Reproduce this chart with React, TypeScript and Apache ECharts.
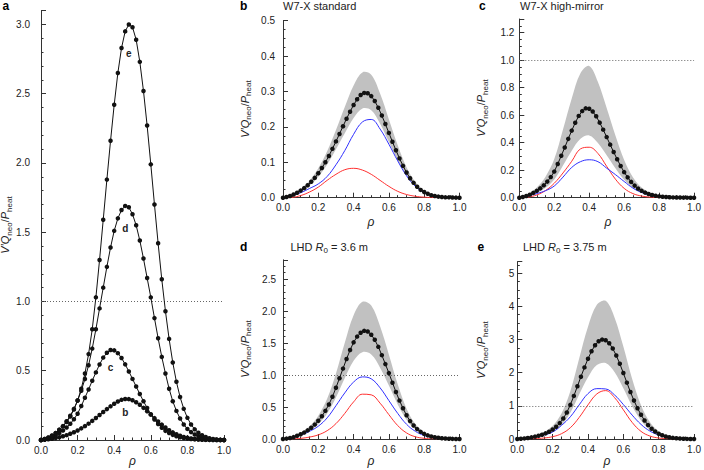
import React, { useEffect, useRef } from "react";
import * as echarts from "echarts";

// ---------- data ----------
const RHO_FINE = [0, 0.02, 0.04, 0.06, 0.08, 0.1, 0.12, 0.14, 0.16, 0.18, 0.2, 0.22, 0.24, 0.26, 0.28, 0.3, 0.32, 0.34, 0.36, 0.38, 0.4, 0.42, 0.44, 0.46, 0.48, 0.5, 0.52, 0.54, 0.56, 0.58, 0.6, 0.62, 0.64, 0.66, 0.68, 0.7, 0.72, 0.74, 0.76, 0.78, 0.8, 0.82, 0.84, 0.86, 0.88, 0.9, 0.92, 0.94, 0.96, 0.98, 1];
const RHO_COARSE = [0, 0.05, 0.1, 0.15, 0.2, 0.25, 0.3, 0.35, 0.4, 0.45, 0.5, 0.55, 0.6, 0.65, 0.7, 0.75, 0.8, 0.85, 0.9, 0.95, 1];

// total V'Q_neo/P_heat (black dotted curves), on RHO_FINE
const TOTAL_B = [0, 0.002, 0.005, 0.009, 0.014, 0.02, 0.027, 0.035, 0.045, 0.056, 0.069, 0.084, 0.1, 0.118, 0.138, 0.159, 0.18, 0.202, 0.223, 0.243, 0.262, 0.278, 0.29, 0.296, 0.295, 0.287, 0.273, 0.254, 0.232, 0.208, 0.183, 0.158, 0.134, 0.111, 0.09, 0.071, 0.055, 0.042, 0.031, 0.022, 0.016, 0.011, 0.007, 0.005, 0.003, 0.002, 0.001, 0.001, 0.0005, 0.0002, 0];
const TOTAL_C = [0, 0.005, 0.012, 0.022, 0.035, 0.05, 0.068, 0.09, 0.117, 0.15, 0.19, 0.245, 0.305, 0.365, 0.428, 0.488, 0.545, 0.595, 0.63, 0.65, 0.647, 0.627, 0.592, 0.546, 0.495, 0.441, 0.386, 0.332, 0.28, 0.231, 0.186, 0.148, 0.115, 0.088, 0.066, 0.05, 0.037, 0.027, 0.02, 0.014, 0.01, 0.007, 0.005, 0.003, 0.002, 0.001, 0.001, 0.0005, 0.0002, 0.0001, 0];
const TOTAL_D = [0, 0.006, 0.016, 0.03, 0.05, 0.075, 0.1, 0.135, 0.175, 0.225, 0.285, 0.355, 0.44, 0.54, 0.66, 0.8, 0.95, 1.1, 1.25, 1.39, 1.51, 1.6, 1.66, 1.69, 1.68, 1.63, 1.55, 1.44, 1.31, 1.17, 1.03, 0.88, 0.735, 0.6, 0.48, 0.37, 0.28, 0.21, 0.155, 0.112, 0.08, 0.057, 0.04, 0.028, 0.019, 0.012, 0.007, 0.004, 0.002, 0.001, 0];
const TOTAL_E = [0, 0.008, 0.018, 0.032, 0.05, 0.072, 0.098, 0.13, 0.17, 0.22, 0.285, 0.37, 0.48, 0.62, 0.8, 1.03, 1.3, 1.59, 1.88, 2.16, 2.42, 2.65, 2.83, 2.95, 3.0, 2.98, 2.89, 2.73, 2.52, 2.27, 1.99, 1.7, 1.42, 1.16, 0.93, 0.73, 0.56, 0.42, 0.31, 0.225, 0.16, 0.112, 0.077, 0.052, 0.034, 0.022, 0.013, 0.007, 0.003, 0.001, 0];

// uncertainty band, red and blue contributions, on RHO_COARSE
const BAND_UP_B = [0, 0.008, 0.024, 0.048, 0.083, 0.131, 0.191, 0.256, 0.317, 0.354, 0.347, 0.294, 0.221, 0.148, 0.086, 0.044, 0.019, 0.007, 0.002, 0.0005, 0];
const BAND_LO_B = [0, 0.006, 0.017, 0.034, 0.059, 0.094, 0.137, 0.182, 0.225, 0.252, 0.247, 0.209, 0.157, 0.105, 0.061, 0.031, 0.014, 0.005, 0.0017, 0.0004, 0];
const RED_B = [0, 0.001, 0.006, 0.016, 0.03, 0.049, 0.066, 0.079, 0.083, 0.078, 0.066, 0.049, 0.032, 0.018, 0.009, 0.004, 0.0015, 0.0005, 0, 0, 0];
const BLUE_B = [0, 0.006, 0.014, 0.026, 0.039, 0.06, 0.093, 0.133, 0.179, 0.214, 0.221, 0.194, 0.151, 0.104, 0.062, 0.032, 0.0145, 0.0055, 0.002, 0.0005, 0];

const BAND_UP_C = [0, 0.025, 0.074, 0.153, 0.281, 0.496, 0.722, 0.906, 0.958, 0.842, 0.653, 0.453, 0.275, 0.149, 0.074, 0.035, 0.015, 0.006, 0.0015, 0.0003, 0];
const BAND_LO_C = [0, 0.012, 0.035, 0.072, 0.133, 0.235, 0.342, 0.429, 0.453, 0.398, 0.309, 0.214, 0.13, 0.07, 0.035, 0.016, 0.007, 0.003, 0.0007, 0.0001, 0];
const RED_C = [0, 0.004, 0.02, 0.052, 0.105, 0.18, 0.265, 0.355, 0.367, 0.322, 0.228, 0.135, 0.068, 0.03, 0.012, 0.004, 0.0012, 0.0003, 0, 0, 0];
const BLUE_C = [0, 0.013, 0.03, 0.051, 0.085, 0.15, 0.22, 0.262, 0.276, 0.262, 0.215, 0.168, 0.118, 0.07, 0.038, 0.019, 0.009, 0.004, 0.0015, 0.0003, 0];

const BAND_UP_D = [0, 0.029, 0.096, 0.198, 0.365, 0.627, 1.024, 1.504, 1.933, 2.144, 2.086, 1.76, 1.318, 0.854, 0.474, 0.233, 0.102, 0.044, 0.015, 0.004, 0];
const BAND_LO_D = [0, 0.019, 0.061, 0.126, 0.231, 0.397, 0.648, 0.952, 1.223, 1.357, 1.32, 1.114, 0.834, 0.54, 0.3, 0.147, 0.065, 0.028, 0.01, 0.0024, 0];
const RED_D = [0, 0.002, 0.01, 0.03, 0.065, 0.13, 0.24, 0.4, 0.58, 0.7, 0.69, 0.56, 0.38, 0.21, 0.095, 0.035, 0.011, 0.003, 0.001, 0, 0];
const BLUE_D = [0, 0.018, 0.06, 0.12, 0.2, 0.33, 0.52, 0.72, 0.89, 0.97, 0.94, 0.8, 0.6, 0.4, 0.23, 0.12, 0.055, 0.022, 0.008, 0.002, 0];

const BAND_UP_E = [0, 0.035, 0.1, 0.21, 0.4, 0.77, 1.44, 2.43, 3.39, 4.05, 4.17, 3.67, 2.79, 1.81, 1.02, 0.51, 0.224, 0.09, 0.031, 0.007, 0];
const BAND_LO_E = [0, 0.019, 0.055, 0.116, 0.22, 0.42, 0.79, 1.34, 1.86, 2.23, 2.29, 2.02, 1.53, 0.99, 0.56, 0.28, 0.123, 0.05, 0.017, 0.004, 0];
const RED_E = [0, 0.003, 0.012, 0.03, 0.07, 0.16, 0.34, 0.65, 1.03, 1.36, 1.46, 1.25, 0.88, 0.5, 0.23, 0.09, 0.03, 0.01, 0.003, 0, 0];
const BLUE_E = [0, 0.025, 0.07, 0.12, 0.21, 0.41, 0.67, 1.03, 1.37, 1.52, 1.51, 1.33, 1.04, 0.72, 0.44, 0.24, 0.12, 0.05, 0.018, 0.005, 0];

const CURVE_LETTERS = ["b", "c", "d", "e"];
const PANEL_TITLES = ["W7-X standard", "W7-X high-mirror", "3.6", "3.75"];
const REFERENCE_LEVEL = 1;

// ---------- styles ----------
const FONT = '"Liberation Sans", Arial, Helvetica, sans-serif';
const AXIS_COLOR = "#333";
const TEXT_COLOR = "#222";
const BAND_COLOR = "#c1c1c1";
const RED = "#ff3030";
const BLUE = "#3030ff";

const PANELS = [
  { grid: { left: 41, top: 10.6, width: 183, height: 429.4 }, yMax: 3.1, yInt: 0.5, yMinor: 5, digits: 1, margin: 11, hideMax: true },
  { grid: { left: 283, top: 20.7, width: 176.5, height: 177 }, yMax: 0.5, yInt: 0.1, yMinor: 4, digits: 1, margin: 8, hideMax: false },
  { grid: { left: 519.3, top: 19, width: 177.4, height: 178.7 }, yMax: 1.3, yInt: 0.2, yMinor: 4, digits: 1, margin: 5, hideMax: true },
  { grid: { left: 283, top: 259.8, width: 176.5, height: 179.2 }, yMax: 2.8, yInt: 0.5, yMinor: 5, digits: 1, margin: 7, hideMax: true },
  { grid: { left: 517.3, top: 261.7, width: 179.4, height: 177.3 }, yMax: 5.35, yInt: 1, yMinor: 4, digits: 0, margin: 3, hideMax: true },
];

const pairs = (xs: number[], ys: number[]) => xs.map((x, i) => [x, ys[i]]);

function xAxis(i: number) {
  return {
    type: "value", gridIndex: i, min: 0, max: 1, interval: 0.2,
    axisLine: { onZero: false, lineStyle: { color: AXIS_COLOR, width: 1 } },
    axisTick: { inside: true, length: 5, lineStyle: { color: AXIS_COLOR } },
    minorTick: { show: true, splitNumber: 4, length: 2.5, lineStyle: { color: AXIS_COLOR } },
    splitLine: { show: false },
    axisLabel: { formatter: (v: number) => v.toFixed(1), fontSize: 10, color: TEXT_COLOR, margin: 5, fontFamily: FONT },
  };
}

function yAxis(i: number) {
  const p = PANELS[i];
  return {
    type: "value", gridIndex: i, min: 0, max: p.yMax, interval: p.yInt,
    axisLine: { show: true, lineStyle: { color: AXIS_COLOR, width: 1 } },
    axisTick: { show: true, inside: true, length: 5, lineStyle: { color: AXIS_COLOR } },
    minorTick: { show: true, splitNumber: p.yMinor, length: 2.5, lineStyle: { color: AXIS_COLOR } },
    splitLine: { show: false },
    axisLabel: {
      formatter: (v: number) => v.toFixed(p.digits), fontSize: 10, color: TEXT_COLOR,
      margin: p.margin, fontFamily: FONT, showMaxLabel: !p.hideMax,
    },
  };
}

const refLine = {
  silent: true, symbol: "none", label: { show: false },
  lineStyle: { type: [1, 2], color: "#666", width: 1 },
  data: [{ yAxis: REFERENCE_LEVEL }],
};

function blackSeries(i: number, ys: number[], opts: any = {}) {
  const data: any[] = pairs(RHO_FINE, ys);
  if (opts.letter) {
    const k = opts.labelIdx;
    data[k] = {
      value: data[k],
      label: {
        show: true, position: "bottom", distance: opts.dist, formatter: opts.letter,
        fontSize: 10, fontWeight: "bold", color: TEXT_COLOR, fontFamily: FONT,
      },
    };
  }
  const s: any = {
    type: "line", xAxisIndex: i, yAxisIndex: i, data, symbol: "circle", symbolSize: 4.5,
    itemStyle: { color: "#111" }, lineStyle: { color: "#111", width: 1 }, z: 5, silent: true,
  };
  if (opts.ref) s.markLine = refLine;
  return s;
}

function bandSeries(i: number, lo: number[], up: number[]) {
  return {
    type: "custom", xAxisIndex: i, yAxisIndex: i, silent: true, z: 1,
    data: RHO_COARSE.map((r, k) => [r, lo[k], up[k]]),
    encode: { x: 0, y: [1, 2] },
    renderItem: (params: any, api: any) => {
      if (params.dataIndex !== 0) return null;
      const pts: number[][] = [];
      for (let k = 0; k < RHO_COARSE.length; k++) pts.push(api.coord([RHO_COARSE[k], up[k]]));
      for (let k = RHO_COARSE.length - 1; k >= 0; k--) pts.push(api.coord([RHO_COARSE[k], lo[k]]));
      return { type: "polygon", shape: { points: pts, smooth: 0.35 }, style: { fill: BAND_COLOR } };
    },
  };
}

function thinLine(i: number, ys: number[], color: string) {
  return {
    type: "line", xAxisIndex: i, yAxisIndex: i, data: pairs(RHO_COARSE, ys), symbol: "none",
    smooth: 0.4, lineStyle: { color, width: 1 }, z: 3, silent: true,
  };
}

// ---------- texts ----------
const mainRich = {
  n: { fontSize: 11, fontFamily: FONT, fill: TEXT_COLOR, lineHeight: 16 },
  i: { fontSize: 11, fontFamily: FONT, fill: TEXT_COLOR, fontStyle: "italic", lineHeight: 16 },
  s: { fontSize: 8, fontFamily: FONT, fill: TEXT_COLOR, lineHeight: 8, verticalAlign: "bottom" },
};

function letter(t: string, x: number, y: number) {
  return {
    type: "text", x, y, silent: true,
    style: { text: t, fontSize: 12, fontWeight: "bold", fontFamily: FONT, fill: "#000", align: "left", verticalAlign: "middle" },
  };
}
function title(t: string, x: number, y: number) {
  return {
    type: "text", x, y, silent: true,
    style: { text: t, rich: mainRich, fontSize: 11, fontFamily: FONT, fill: TEXT_COLOR, align: "left", verticalAlign: "middle" },
  };
}
function ylabel(x: number, y: number) {
  return {
    type: "text", x, y, rotation: Math.PI / 2, silent: true,
    style: {
      text: "{i|V′Q}{s|neo}{n|/}{i|P}{s|heat}", rich: mainRich, fontSize: 11, fontFamily: FONT,
      fill: TEXT_COLOR, align: "center", verticalAlign: "middle",
    },
  };
}
function rho(x: number, y: number) {
  return {
    type: "text", x, y, silent: true,
    style: { text: "ρ", fontSize: 12, fontStyle: "italic", fontFamily: FONT, fill: TEXT_COLOR, align: "center", verticalAlign: "middle" },
  };
}

export default function App() {
  const ref = useRef<HTMLDivElement>(null);
  useEffect(() => {
    if (!ref.current) return;
    const chart = echarts.init(ref.current, null, { renderer: "svg" });
    const series: any[] = [
      // panel a
      blackSeries(0, TOTAL_B, { letter: CURVE_LETTERS[0], labelIdx: 23, dist: 6 }),
      blackSeries(0, TOTAL_C, { letter: CURVE_LETTERS[1], labelIdx: 19, dist: 10 }),
      blackSeries(0, TOTAL_D, { letter: CURVE_LETTERS[2], labelIdx: 23, dist: 15 }),
      blackSeries(0, TOTAL_E, { letter: CURVE_LETTERS[3], labelIdx: 24, dist: 22, ref: true }),
      // panel b
      bandSeries(1, BAND_LO_B, BAND_UP_B), thinLine(1, RED_B, RED), thinLine(1, BLUE_B, BLUE), blackSeries(1, TOTAL_B),
      // panel c
      bandSeries(2, BAND_LO_C, BAND_UP_C), thinLine(2, RED_C, RED), thinLine(2, BLUE_C, BLUE), blackSeries(2, TOTAL_C, { ref: true }),
      // panel d
      bandSeries(3, BAND_LO_D, BAND_UP_D), thinLine(3, RED_D, RED), thinLine(3, BLUE_D, BLUE), blackSeries(3, TOTAL_D, { ref: true }),
      // panel e
      bandSeries(4, BAND_LO_E, BAND_UP_E), thinLine(4, RED_E, RED), thinLine(4, BLUE_E, BLUE), blackSeries(4, TOTAL_E, { ref: true }),
    ];
    const graphic = [
      letter("a", 2.5, 5.5), letter("b", 240, 5.5), letter("c", 479, 5.5), letter("d", 240, 246.5), letter("e", 477.5, 246.5),
      title(PANEL_TITLES[0], 283, 5.5), title(PANEL_TITLES[1], 520, 5.5),
      title(`{n|LHD }{i|R}{s|0}{n| = ${PANEL_TITLES[2]} m}`, 290.5, 246.5),
      title(`{n|LHD }{i|R}{s|0}{n| = ${PANEL_TITLES[3]} m}`, 523, 246.5),
      ylabel(5, 225), ylabel(244.5, 109), ylabel(481, 108), ylabel(244.5, 349), ylabel(481, 350),
      rho(132.5, 461), rho(371, 222), rho(608, 222), rho(371, 461), rho(607, 461),
    ];
    chart.setOption({
      animation: false,
      backgroundColor: "#fff",
      textStyle: { fontFamily: FONT },
      grid: PANELS.map((p) => ({ ...p.grid, containLabel: false })),
      xAxis: PANELS.map((_, i) => xAxis(i)),
      yAxis: PANELS.map((_, i) => yAxis(i)),
      series,
      graphic,
    });
    return () => chart.dispose();
  }, []);
  return <div ref={ref} style={{ position: "absolute", left: 0, top: 0, width: 704, height: 470 }} />;
}
